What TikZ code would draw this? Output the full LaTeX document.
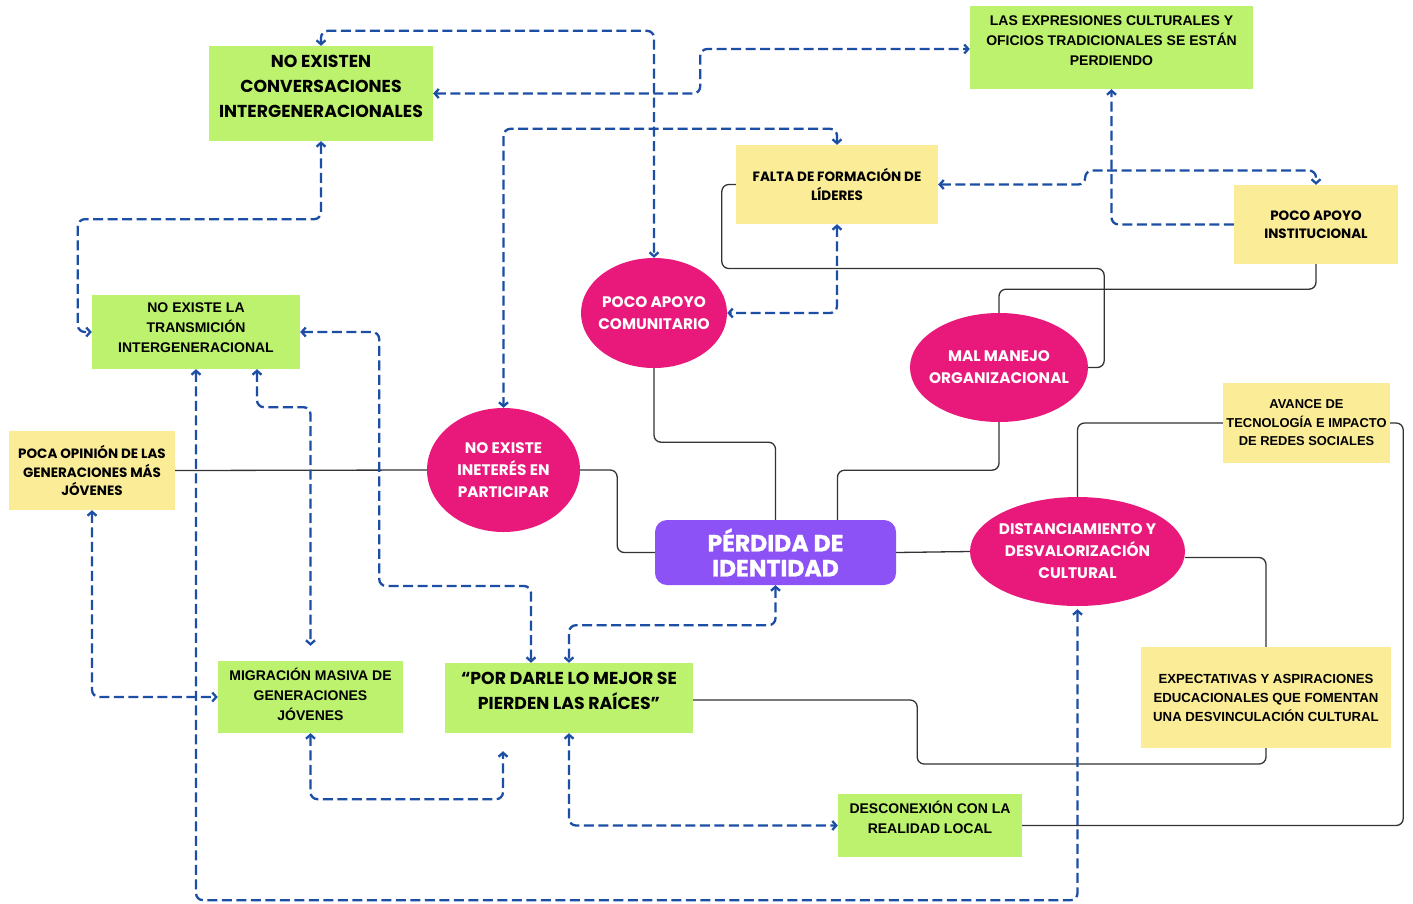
\documentclass[tikz,border=0pt]{standalone}
\usepackage{fontspec}
\setmainfont{Poppins}
\newfontfamily\arialf{Liberation Sans}
\usetikzlibrary{arrows.meta,shapes.geometric}
\definecolor{boxgreen}{HTML}{BDF26E}
\definecolor{boxyellow}{HTML}{FBEC97}
\definecolor{pinkc}{HTML}{E8197A}
\definecolor{purplec}{HTML}{8C52F5}
\definecolor{bluec}{HTML}{1C4EA6}
\definecolor{linec}{HTML}{333333}
\tikzset{
  box/.style={rectangle, inner sep=0pt, align=center, text=black},
  gbox/.style={box, fill=boxgreen},
  ybox/.style={box, fill=boxyellow},
  pop/.style={font=\bfseries\fontsize{13.5}{18.5}\selectfont},
  popbig/.style={font=\bfseries\fontsize{17.3}{25}\selectfont},
  ari/.style={font=\arialf\bfseries\fontsize{14}{20}\selectfont},
  oval/.style={ellipse, fill=pinkc, text=white, align=center, inner xsep=-14pt, inner ysep=0pt,
    font=\bfseries\fontsize{15.3}{22}\selectfont},
  link/.style={draw=linec, line width=1.3pt, rounded corners=7pt},
  dlink/.style={draw=bluec, line width=2.3pt, dash pattern=on 10pt off 4.5pt,
    rounded corners=7pt, >={Straight Barb[length=4pt,width=9pt]}},
  both/.style={dlink, <->},
  onlyend/.style={dlink, ->},
}
\begin{document}
\begin{tikzpicture}[x=1pt,y=-1pt]
\useasboundingbox (0,0) rectangle (1413,903);
\fill[white] (0,0) rectangle (1413,903);

% nodes
\node[gbox,popbig,minimum width=224pt,minimum height=95pt,text depth=15pt] (NEconv) at (321,93.5)
  {NO EXISTEN\\CONVERSACIONES\\INTERGENERACIONALES};
\node[gbox,ari,minimum width=283pt,minimum height=83pt,text depth=14pt] (Expr) at (1111.5,47.5)
  {LAS EXPRESIONES CULTURALES Y\\OFICIOS TRADICIONALES SE ESTÁN\\PERDIENDO};
\node[ybox,pop,minimum width=202pt,minimum height=79pt] (Falta) at (837,184.5)
  {FALTA DE FORMACIÓN DE\\LÍDERES};
\node[ybox,pop,minimum width=164pt,minimum height=79pt] (PocoInst) at (1316,224.5)
  {POCO APOYO\\INSTITUCIONAL};
\node[gbox,ari,minimum width=208pt,minimum height=74pt,text depth=8pt] (NoTrans) at (196,332)
  {NO EXISTE LA\\TRANSMICIÓN\\INTERGENERACIONAL};
\node[oval,minimum width=146pt,minimum height=110pt] (PocoCom) at (654,313)
  {POCO APOYO\\COMUNITARIO};
\node[oval,minimum width=178pt,minimum height=109pt] (MalMan) at (999,367.5)
  {MAL MANEJO\\ORGANIZACIONAL};
\node[ybox,font=\arialf\bfseries\fontsize{12.9}{18.5}\selectfont,minimum width=167pt,minimum height=80pt] (Avance) at (1306.5,423)
  {AVANCE DE\\TECNOLOGÍA E IMPACTO\\DE REDES SOCIALES};
\node[ybox,pop,minimum width=166pt,minimum height=79pt] (PocaOp) at (92,470.5)
  {POCA OPINIÓN DE LAS\\GENERACIONES MÁS\\JÓVENES};
\node[oval,minimum width=153pt,minimum height=124pt] (NoInt) at (503.5,470)
  {NO EXISTE\\INETERÉS EN\\PARTICIPAR};
\node[rectangle, fill=purplec, rounded corners=12pt, text=white, align=center, inner sep=0pt,
  minimum width=241pt, minimum height=65pt,
  font=\addfontfeature{FakeBold=1.2}\bfseries\fontsize{23.5}{25}\selectfont] (Perdida) at (775.5,552.5)
  {PÉRDIDA DE\\IDENTIDAD};
\node[oval,minimum width=215pt,minimum height=109pt] (Dist) at (1077.5,551.5)
  {DISTANCIAMIENTO Y\\DESVALORIZACIÓN\\CULTURAL};
\node[gbox,ari,minimum width=185pt,minimum height=72pt,text depth=6pt] (Migr) at (310.5,697)
  {MIGRACIÓN MASIVA DE\\GENERACIONES\\JÓVENES};
\node[gbox,popbig,minimum width=248pt,minimum height=70pt,text depth=15pt] (PorDarle) at (569,698)
  {“POR DARLE LO MEJOR SE\\PIERDEN LAS RAÍCES”};
\node[ybox,font=\arialf\bfseries\fontsize{13.2}{19}\selectfont,minimum width=250pt,minimum height=101pt] (Expect) at (1266,697.5)
  {EXPECTATIVAS Y ASPIRACIONES\\EDUCACIONALES QUE FOMENTAN\\UNA DESVINCULACIÓN CULTURAL};
\node[gbox,ari,minimum width=184pt,minimum height=63pt,text depth=16pt] (Descon) at (930,825.5)
  {DESCONEXIÓN CON LA\\REALIDAD LOCAL};

% solid connectors
\draw[link] (Falta.west) -- ++(-14,0) -- ++(0,84) -| ([xshift=16pt]MalMan.east) -- (MalMan.east);
\draw[link] (PocoInst.south) -- ++(0,25) -| (MalMan.north);
\draw[link] (PocoCom.south) -- ++(0,74) -| (Perdida.north);
\draw[link] (MalMan.south) -- ++(0,48) -| ([xshift=62pt]Perdida.north);
\draw[link] (PocaOp.east) -- (NoInt.west);
\draw[link] (NoInt.east) -- ++(37,0) |- (Perdida.west);
\draw[link] (Perdida.east) -- (Dist.west);
\draw[link] (Dist.north) |- (Avance.west);
\draw[link] (Avance.east) -- ++(13,0) |- (Descon.east);
\draw[link] ([yshift=-6pt]Dist.east) -| (Expect.north);
\draw[link] ([yshift=-2pt]PorDarle.east) -- ++(224,0) -- ++(0,64) -| (Expect.south);

% dashed connectors
\draw[both] (NEconv.north) -- ++(0,-15) -| (PocoCom.north);
\draw[both] (NEconv.east) -- ++(267,0) |- ([yshift=-1.5pt]Expr.west);
\draw[both] (NEconv.south) -- ++(0,78) -| ([xshift=-14pt]NoTrans.west) -- (NoTrans.west);
\draw[both] (Falta.north) -- ++(0,-16) -| (NoInt.north);
\draw[both] (Falta.south) |- (PocoCom.east);
\draw[both] (Falta.east) -- ++(147,0) -- ++(0,-14) -| (PocoInst.north);
\draw[onlyend] (PocoInst.west) -| (Expr.south);
\draw[both] (NoTrans.east) -- ++(79,0) -- ++(0,254) -| ([xshift=-38pt]PorDarle.north);
\draw[both, shorten >=15pt] ([xshift=61pt]NoTrans.south) -- ++(0,38) -| (Migr.north);
\draw[both, shorten >=3pt] (NoTrans.south) -- ++(0,531) -| (Dist.south);
\draw[both] (PocaOp.south) |- (Migr.west);
\draw[both, shorten >=18pt] (Migr.south) -- ++(0,66) -| ([xshift=-66pt]PorDarle.south);
\draw[both] (Perdida.south) -- ++(0,40) -| (PorDarle.north);
\draw[both] (PorDarle.south) |- (Descon.west);
\end{tikzpicture}
\end{document}
